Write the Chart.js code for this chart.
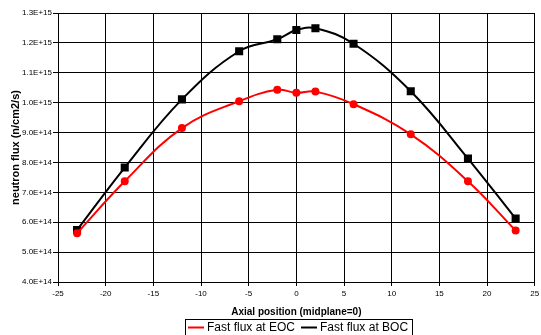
<!DOCTYPE html>
<html><head><meta charset="utf-8">
<script src="https://cdn.jsdelivr.net/npm/chart.js@4.4.1/dist/chart.umd.min.js"></script>
<style>html,body{margin:0;padding:0;background:#fff}#w{width:541px;height:335px}</style>
</head><body><div id="w"><canvas id="c" width="541" height="335"></canvas></div>
<script>
const positions = [-23, -18, -12, -6, -2, 0, 2, 6, 12, 18, 23];
const fluxEOC = [5.63e14, 7.37e14, 9.15e14, 1.005e15, 1.043e15, 1.033e15, 1.037e15, 9.95e14, 8.94e14, 7.37e14, 5.72e14];
const fluxBOC = [5.74e14, 7.83e14, 1.011e15, 1.172e15, 1.212e15, 1.243e15, 1.249e15, 1.197e15, 1.038e15, 8.13e14, 6.12e14];
const seriesNames = ['Fast flux at EOC', 'Fast flux at BOC'];
const xRange = [-25, 25, 5];
const yRange = [4e14, 1.3e15, 1e14];
const xTitle = 'Axial position (midplane=0)';
const yTitle = 'neutron flux (n/cm2/s)';

const FONT = "'Liberation Sans', Arial, sans-serif";
const pts = arr => positions.map((x, i) => ({x: x, y: arr[i]}));

const legendPlugin = {
  id: 'boxLegend',
  afterDraw(chart) {
    const ctx = chart.ctx, ca = chart.chartArea;
    ctx.save();
    ctx.font = '12px ' + FONT;
    const lineW = 16, gap1 = 3, gap2 = 6, padL = 3, padR = 4;
    const items = chart.data.datasets.map(d => ({label: d.label, color: d.borderColor, w: ctx.measureText(d.label).width}));
    let total = padL + padR;
    items.forEach((it, i) => { total += lineW + gap1 + it.w + (i < items.length - 1 ? gap2 : 0); });
    let x0 = Math.round((ca.left + ca.right) / 2 - total / 2 + 2);
    const top = 319;
    ctx.strokeStyle = '#000'; ctx.lineWidth = 1;
    ctx.strokeRect(x0 + 0.5, top + 0.5, Math.round(total), 30);
    let x = x0 + padL;
    const cy = 327.5;
    items.forEach(it => {
      ctx.strokeStyle = it.color; ctx.lineWidth = 2;
      ctx.beginPath(); ctx.moveTo(x, cy); ctx.lineTo(x + lineW, cy); ctx.stroke();
      x += lineW + gap1;
      ctx.fillStyle = '#000'; ctx.textBaseline = 'middle'; ctx.textAlign = 'left';
      ctx.fillText(it.label, x, cy);
      x += it.w + gap2;
    });
    ctx.restore();
  }
};

new Chart(document.getElementById('c'), {
  type: 'scatter',
  data: {
    datasets: [
      {label: seriesNames[0], data: pts(fluxEOC), showLine: true, borderColor: '#ff0000', backgroundColor: '#ff0000',
       borderWidth: 2, pointStyle: 'circle', pointRadius: 3, pointHoverRadius: 3, tension: 0.4},
      {label: seriesNames[1], data: pts(fluxBOC), showLine: true, borderColor: '#000000', backgroundColor: '#000000',
       borderWidth: 2, pointStyle: 'rect', pointRadius: 4.3, pointHoverRadius: 4.3, tension: 0.4}
    ]
  },
  options: {
    responsive: false, animation: false, devicePixelRatio: 1,
    layout: {padding: {top: 13, right: 3, bottom: 16, left: 0}},
    plugins: {legend: {display: false}, tooltip: {enabled: false}},
    scales: {
      x: {
        type: 'linear', min: xRange[0], max: xRange[1],
        ticks: {stepSize: xRange[2], color: '#000', font: {family: FONT, size: 8}, padding: 3, maxRotation: 0},
        grid: {color: '#000', lineWidth: 1, tickLength: 4},
        border: {color: '#000', width: 1},
        title: {display: true, text: xTitle, color: '#000', font: {family: FONT, size: 10, weight: 'bold'}, padding: {top: 0, bottom: 1}},
        afterFit(s) { s.height = 37; s.paddingRight = 0; s.paddingLeft = 0; }
      },
      y: {
        type: 'linear', min: yRange[0], max: yRange[1],
        ticks: {stepSize: yRange[2], color: '#000', font: {family: FONT, size: 8}, padding: 1,
                callback: v => Number(v).toExponential(1).toUpperCase()},
        grid: {color: '#000', lineWidth: 1, tickLength: 5},
        border: {color: '#000', width: 1},
        title: {display: true, text: yTitle, color: '#000', font: {family: FONT, size: 11, weight: 'bold'}, padding: {top: 9, bottom: 0}},
        afterFit(s) { s.width = 58; }
      }
    }
  },
  plugins: [legendPlugin]
});
</script></body></html>
